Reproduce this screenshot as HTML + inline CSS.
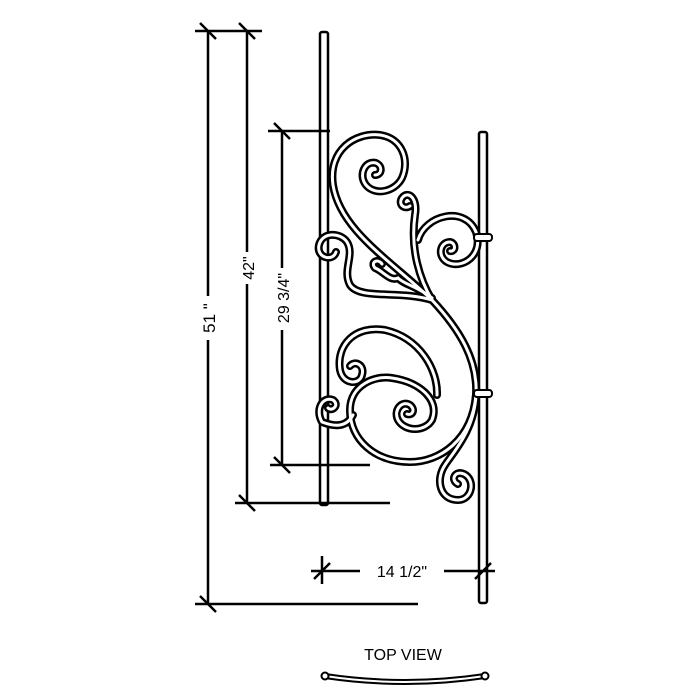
<!DOCTYPE html>
<html><head><style>body{margin:0;background:#fff}svg{display:block}</style></head>
<body>
<svg width="700" height="700" viewBox="0 0 700 700" xmlns="http://www.w3.org/2000/svg">
<g stroke="#000" stroke-width="2.5" fill="none">
<rect x="320" y="32" width="8" height="473" rx="2" fill="#fff"/>
<rect x="479" y="132" width="8" height="471" rx="2" fill="#fff"/>
<line x1="208" y1="31" x2="208" y2="604"/>
<line x1="195" y1="31" x2="262" y2="31"/>
<line x1="195" y1="604" x2="418" y2="604"/>
<line x1="247" y1="31" x2="247" y2="503"/>
<line x1="235" y1="503" x2="390" y2="503"/>
<line x1="282" y1="131" x2="282" y2="465"/>
<line x1="268" y1="131" x2="330" y2="131"/>
<line x1="270" y1="465" x2="370" y2="465"/>
<line x1="311" y1="571" x2="360" y2="571"/>
<line x1="444" y1="571" x2="495" y2="571"/>
<line x1="322" y1="556" x2="322" y2="584"/>
<line x1="200" y1="23" x2="216" y2="39"/><line x1="239" y1="23" x2="255" y2="39"/>
<line x1="274" y1="123" x2="290" y2="139"/><line x1="274" y1="457" x2="290" y2="473"/>
<line x1="239" y1="495" x2="255" y2="511"/><line x1="200" y1="596" x2="216" y2="612"/>
<line x1="314" y1="579" x2="330" y2="563"/><line x1="475" y1="579" x2="491" y2="563"/>
</g>
<g fill="none" stroke-linecap="round" stroke-linejoin="round" stroke="#000" stroke-width="8">
<path d="M432,300 C390,260 340,230 333,185 C328,150 355,132 380,135 C402,138 410,160 402,178 C395,192 375,196 366,185 C358,175 365,160 376,163 C383,166 382,175 375,175"/>
<path d="M432,300 C460,330 478,360 476,395 C474,430 455,450 445,465 C435,480 440,500 458,500 C472,500 476,480 464,474 C455,470 450,480 458,484"/>
<path d="M432,300 C420,280 410,250 415,215 C418,198 408,190 402,198 C398,204 404,210 410,206"/>
<path d="M418,240 C425,215 465,205 476,232 C484,255 462,270 447,262 C437,256 440,242 450,242 C456,243 456,252 450,251"/>
<path d="M432,300 C400,290 360,300 350,285 C342,270 355,255 347,242 C340,232 322,232 319,245 C316,258 333,262 336,252"/>
<path d="M432,298 C415,285 405,285 398,278 C390,282 382,270 375,268 C370,262 378,258 382,264"/>
<path d="M476,395 C472,440 440,462 410,462 C375,462 350,440 350,410 C350,385 375,375 392,378 C420,382 440,400 432,420 C425,432 405,432 398,420 C393,410 402,400 410,405 C416,410 412,416 407,414"/>
<path d="M437,395 C438,370 420,338 385,330 C355,325 336,345 340,370 C343,385 360,385 362,375 C365,365 355,360 350,366"/>
<path d="M353,415 C345,430 330,425 322,422 C315,410 322,396 333,400 C340,405 332,412 328,408"/>
</g>
<g fill="none" stroke="#fff" stroke-width="3" stroke-linecap="round">
<path d="M432,300 C390,260 340,230 333,185 C328,150 355,132 380,135 C402,138 410,160 402,178 C395,192 375,196 366,185 C358,175 365,160 376,163 C383,166 382,175 375,175"/>
<path d="M432,300 C460,330 478,360 476,395 C474,430 455,450 445,465 C435,480 440,500 458,500 C472,500 476,480 464,474 C455,470 450,480 458,484"/>
<path d="M432,300 C420,280 410,250 415,215 C418,198 408,190 402,198 C398,204 404,210 410,206"/>
<path d="M418,240 C425,215 465,205 476,232 C484,255 462,270 447,262 C437,256 440,242 450,242 C456,243 456,252 450,251"/>
<path d="M432,300 C400,290 360,300 350,285 C342,270 355,255 347,242 C340,232 322,232 319,245 C316,258 333,262 336,252"/>
<path d="M432,298 C415,285 405,285 398,278 C390,282 382,270 375,268 C370,262 378,258 382,264"/>
<path d="M476,395 C472,440 440,462 410,462 C375,462 350,440 350,410 C350,385 375,375 392,378 C420,382 440,400 432,420 C425,432 405,432 398,420 C393,410 402,400 410,405 C416,410 412,416 407,414"/>
<path d="M437,395 C438,370 420,338 385,330 C355,325 336,345 340,370 C343,385 360,385 362,375 C365,365 355,360 350,366"/>
<path d="M353,415 C345,430 330,425 322,422 C315,410 322,396 333,400 C340,405 332,412 328,408"/>
</g>
<rect x="474" y="234" width="18" height="7" rx="3" fill="#fff" stroke="#000" stroke-width="2"/>
<rect x="474" y="390" width="18" height="7" rx="3" fill="#fff" stroke="#000" stroke-width="2"/>
<path d="M325,676 Q405,688 485,676" fill="none" stroke="#000" stroke-width="6"/>
<path d="M325,676 Q405,688 485,676" fill="none" stroke="#fff" stroke-width="2"/>
<circle cx="325" cy="676" r="3.5" fill="#fff" stroke="#000" stroke-width="2"/>
<circle cx="485" cy="676" r="3.5" fill="#fff" stroke="#000" stroke-width="2"/>
<g font-family="Liberation Sans, sans-serif" font-size="16" fill="#000">
<text x="402" y="577" text-anchor="middle">14 1/2"</text>
<text x="403" y="660" text-anchor="middle" font-size="16">TOP VIEW</text>
<rect x="200" y="296" width="16" height="44" fill="#fff"/>
<text transform="translate(215,318) rotate(-90)" text-anchor="middle" font-size="17">51 "</text>
<rect x="239" y="252" width="16" height="32" fill="#fff"/>
<text transform="translate(254,268) rotate(-90)" text-anchor="middle">42"</text>
<rect x="274" y="268" width="16" height="62" fill="#fff"/>
<text transform="translate(289,298) rotate(-90)" text-anchor="middle">29 3/4"</text>
</g>
</svg>
</body></html>
